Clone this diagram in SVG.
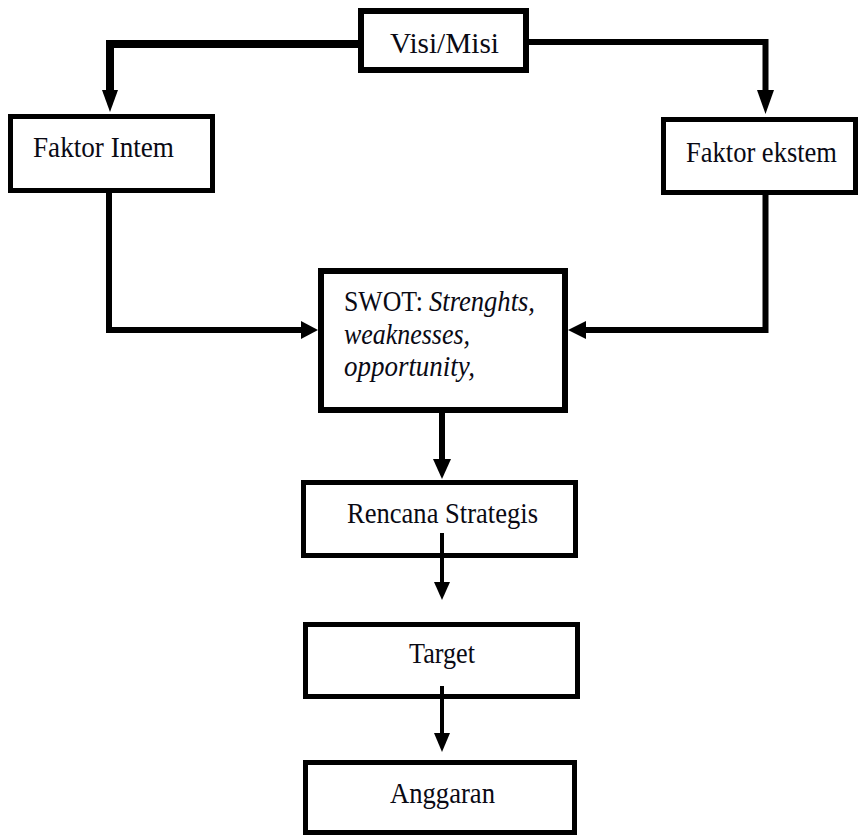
<svg xmlns="http://www.w3.org/2000/svg" width="859" height="836" viewBox="0 0 859 836">
  <style>
    .box { fill: #ffffff; stroke: #000000; stroke-width: 5; }
    .boxt { fill: #ffffff; stroke: #000000; stroke-width: 6; }
    .lbl { font-family: "Liberation Serif", "DejaVu Serif", serif; font-size: 30px; fill: #0a0a14; }
    .it { font-style: italic; }
    .wire { fill: none; stroke: #000000; stroke-linejoin: miter; stroke-linecap: butt; }
    .head { fill: #000000; stroke: none; }
  </style>
  <rect width="859" height="836" fill="#ffffff"/>

  <g id="visi-misi">
    <rect class="boxt" x="361" y="11" width="165" height="59"/>
    <text class="lbl" x="390" y="53" font-size="35" textLength="109" lengthAdjust="spacingAndGlyphs">Visi/Misi</text>
  </g>

  <g id="faktor-intern">
    <rect class="box" x="10.5" y="116.5" width="202" height="74"/>
    <text class="lbl" x="33" y="157" textLength="141" lengthAdjust="spacingAndGlyphs">Faktor Intem</text>
  </g>

  <g id="faktor-ekstern">
    <rect class="box" x="663.5" y="119.5" width="192" height="73"/>
    <text class="lbl" x="686" y="162" textLength="151" lengthAdjust="spacingAndGlyphs">Faktor ekstem</text>
  </g>

  <g id="swot">
    <rect class="boxt" x="321" y="271" width="244" height="139"/>
    <text class="lbl" x="344" y="311" textLength="79" lengthAdjust="spacingAndGlyphs">SWOT:</text>
    <text class="lbl it" x="429" y="311" textLength="106" lengthAdjust="spacingAndGlyphs">Strenghts,</text>
    <text class="lbl it" x="344" y="344" textLength="126" lengthAdjust="spacingAndGlyphs">weaknesses,</text>
    <text class="lbl it" x="344" y="376" textLength="131" lengthAdjust="spacingAndGlyphs">opportunity,</text>
  </g>

  <g id="rencana-strategis">
    <rect class="box" x="303.5" y="482.5" width="272" height="73"/>
    <text class="lbl" x="347" y="523" textLength="191" lengthAdjust="spacingAndGlyphs">Rencana Strategis</text>
  </g>

  <g id="target">
    <rect class="box" x="305.5" y="624.5" width="272" height="72"/>
    <text class="lbl" x="409" y="663" textLength="66" lengthAdjust="spacingAndGlyphs">Target</text>
  </g>

  <g id="anggaran">
    <rect class="box" x="305.5" y="762.5" width="269" height="70"/>
    <text class="lbl" x="390" y="803" textLength="105" lengthAdjust="spacingAndGlyphs">Anggaran</text>
  </g>

  <g id="connectors">
    <path class="wire" d="M358 44 H110 V92" stroke-width="8"/>
    <polygon class="head" points="102,90 118,90 110,112"/>
    <path class="wire" d="M529 42 H765.5 V92" stroke-width="6"/>
    <polygon class="head" points="757,90 774,90 765.5,114"/>
    <path class="wire" d="M109 193 V330 H303" stroke-width="6"/>
    <polygon class="head" points="301,321 301,339 318,330"/>
    <path class="wire" d="M765.5 195 V330 H584" stroke-width="6"/>
    <polygon class="head" points="586,321 586,339 568,330"/>
    <path class="wire" d="M442 413 V462" stroke-width="6"/>
    <polygon class="head" points="433,459 451,459 442,479"/>
    <path class="wire" d="M442 533 V585" stroke-width="4"/>
    <polygon class="head" points="434,582 450,582 442,600"/>
    <path class="wire" d="M442 686 V736" stroke-width="4"/>
    <polygon class="head" points="434,733 450,733 442,752"/>
  </g>
</svg>
